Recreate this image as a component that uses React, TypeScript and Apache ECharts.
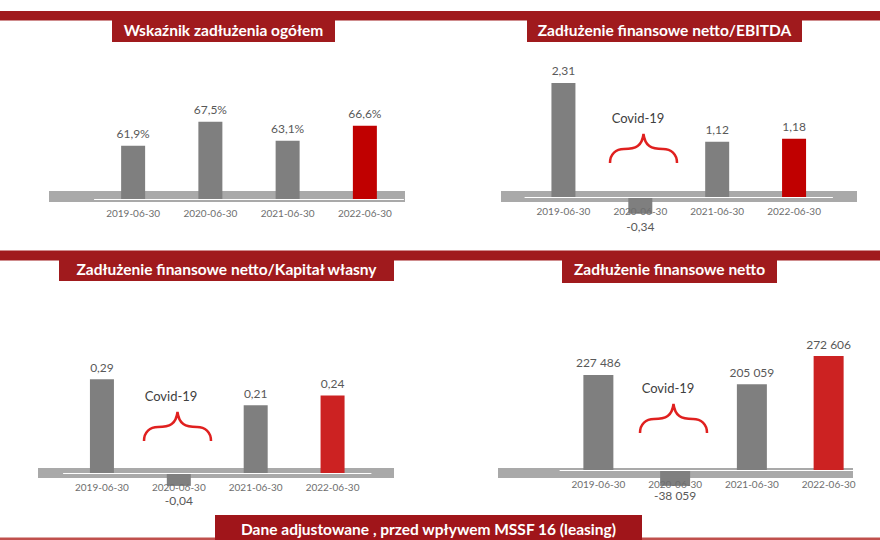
import React, { useEffect, useRef } from 'react';
import * as echarts from 'echarts';

const categories = ['2019-06-30', '2020-06-30', '2021-06-30', '2022-06-30'];
const debtRatio = [61.9, 67.5, 63.1, 66.6];
const netDebtToEbitda = [2.31, -0.34, 1.12, 1.18];
const netDebtToEquity = [0.29, -0.04, 0.21, 0.24];
const netDebt = [227486, -38059, 205059, 272606];

const titles = [
  'Wskaźnik zadłużenia ogółem',
  'Zadłużenie finansowe netto/EBITDA',
  'Zadłużenie finansowe netto/Kapitał własny',
  'Zadłużenie finansowe netto',
];
const covidLabel = 'Covid-19';
const footnote = 'Dane adjustowane , przed wpływem MSSF 16 (leasing)';

const BRACE_D =
  'M0,29 C0,20 6,15 14,15 C26,15 32,12 33.5,0 C35,12 41,15 53,15 C61,15 67,20 67,29';

const FONT = 'Lato, "Open Sans", sans-serif';
const DARK_RED = '#a01a1d';
const GRAY = '#7f7f7f';
const BAND = '#a9a9a9';

const fmtPct = (v: number) => v.toFixed(1).replace('.', ',') + '%';
const fmtDec = (v: number) => v.toFixed(2).replace('.', ',');
const fmtThousands = (v: number) =>
  (v < 0 ? '-' : '') + String(Math.abs(v)).replace(/\B(?=(\d{3})+(?!\d))/g, ' ');

let braceRegistered = false;

export default function App() {
  const ref = useRef<HTMLDivElement>(null);

  useEffect(() => {
    document.body.style.margin = '0';
    if (!braceRegistered) {
      echarts.graphic.registerShape('brace', echarts.graphic.extendPath(BRACE_D, {}) as any);
      braceRegistered = true;
    }
    const chart = echarts.init(ref.current!, null, { renderer: 'svg' });

    const panels = [
      { data: debtRatio, fmt: fmtPct, left: 94.5, width: 309, top: 68.2, height: 130.8, min: 49.5, max: 80, barWidth: 24, red: '#c00000', negDist: 6 },
      { data: netDebtToEbitda, fmt: fmtDec, left: 525, width: 307.5, top: 48.8, height: 197.6, min: -1, max: 3, barWidth: 24, red: '#c00000', negDist: 7 },
      { data: netDebtToEquity, fmt: fmtDec, left: 63.5, width: 307.5, top: 343.8, height: 193.8, min: -0.2, max: 0.4, barWidth: 24, red: '#cc2222', negDist: 9 },
      { data: netDebt, fmt: fmtThousands, left: 560, width: 307, top: 344.6, height: 167.2, min: -100000, max: 300000, barWidth: 30, red: '#cc2222', negDist: 4 },
    ];

    const grid = panels.map((p) => ({ left: p.left, top: p.top, width: p.width, height: p.height, containLabel: false }));
    const xAxis = panels.map((p, i) => ({
      type: 'category',
      gridIndex: i,
      data: categories,
      z: 3,
      position: 'bottom',
      offset: p.min < 0 ? -(p.height * (0 - p.min)) / (p.max - p.min) : 0,
      axisLine: { show: true, onZero: false, lineStyle: { color: '#ffffff', width: 1 } },
      axisTick: { show: false },
      axisLabel: { color: '#6e6e6e', fontSize: 10, fontFamily: FONT, margin: 9, interval: 0 },
    }));
    const yAxis = panels.map((p, i) => ({
      type: 'value',
      gridIndex: i,
      min: p.min,
      max: p.max,
      show: false,
      splitLine: { show: false },
    }));
    const series = panels.map((p, i) => ({
      type: 'bar',
      xAxisIndex: i,
      yAxisIndex: i,
      barWidth: p.barWidth,
      z: 2,
      label: {
        show: true,
        position: 'top',
        distance: 6,
        color: '#595959',
        fontSize: 12,
        fontFamily: FONT,
        formatter: (prm: any) => p.fmt(prm.value),
      },
      data: p.data.map((v, j) => ({
        value: v,
        itemStyle: { color: j === categories.length - 1 ? p.red : GRAY },
        label: v < 0 ? { position: 'bottom', distance: p.negDist } : undefined,
      })),
    }));

    const bands = [
      { x: 49, y: 191, w: 356, h: 11 },
      { x: 501, y: 191, w: 356, h: 11 },
      { x: 38, y: 468, w: 356, h: 10 },
      { x: 498, y: 468, w: 355, h: 10 },
    ];
    const titleBoxes = [
      { x: 112, y: 20, w: 223, h: 22, ty: 29.5 },
      { x: 527, y: 20, w: 275, h: 22, ty: 29.5 },
      { x: 59, y: 260, w: 335, h: 21, ty: 268.5 },
      { x: 562, y: 260, w: 215, h: 23, ty: 268.5 },
    ];
    const covid = [
      { tx: 638, ty: 118, bx: 610, by: 134 },
      { tx: 171, ty: 396, bx: 144, by: 412 },
      { tx: 668, ty: 388, bx: 640, by: 404 },
    ];

    const graphic: any[] = [];
    graphic.push({ type: 'rect', z: 1, shape: { x: 0, y: 11, width: 880, height: 9.5 }, style: { fill: DARK_RED } });
    graphic.push({ type: 'rect', z: 1, shape: { x: 0, y: 250.5, width: 880, height: 10 }, style: { fill: DARK_RED } });
    graphic.push({ type: 'rect', z: 1, shape: { x: 0, y: 537.5, width: 880, height: 2.5 }, style: { fill: '#c0504d' } });
    bands.forEach((b) => {
      graphic.push({ type: 'rect', z: 1, shape: { x: b.x, y: b.y, width: b.w, height: b.h }, style: { fill: BAND } });
    });
    titleBoxes.forEach((t, i) => {
      graphic.push({ type: 'rect', z: 4, shape: { x: t.x, y: t.y, width: t.w, height: t.h }, style: { fill: DARK_RED } });
      graphic.push({
        type: 'text', z: 5, x: t.x + t.w / 2, y: t.ty,
        style: { text: titles[i], fill: '#ffffff', font: `bold 15.5px ${FONT}`, textAlign: 'center', textVerticalAlign: 'middle' },
      });
    });
    covid.forEach((c) => {
      graphic.push({
        type: 'text', z: 5, x: c.tx, y: c.ty,
        style: { text: covidLabel, fill: '#404040', font: `13px ${FONT}`, textAlign: 'center', textVerticalAlign: 'middle' },
      });
      graphic.push({
        type: 'brace', z: 5, x: c.bx, y: c.by,
        style: { fill: 'none', stroke: '#e0201f', lineWidth: 2.5 },
      });
    });
    graphic.push({ type: 'rect', z: 4, shape: { x: 215, y: 515, width: 427, height: 25 }, style: { fill: '#a0151a' } });
    graphic.push({
      type: 'text', z: 5, x: 428.5, y: 529,
      style: { text: footnote, fill: '#ffffff', font: `bold 15.5px ${FONT}`, textAlign: 'center', textVerticalAlign: 'middle' },
    });

    chart.setOption({
      animation: false,
      backgroundColor: '#ffffff',
      grid,
      xAxis,
      yAxis,
      series,
      graphic,
    } as any);

    return () => chart.dispose();
  }, []);

  return <div ref={ref} style={{ width: 880, height: 540 }} />;
}
